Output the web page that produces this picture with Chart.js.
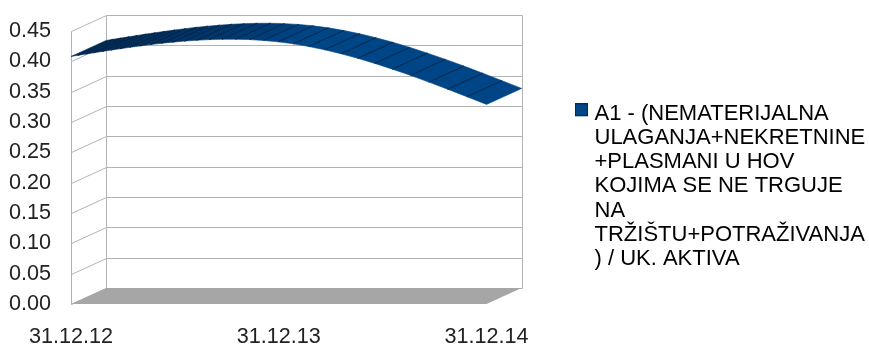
<!DOCTYPE html>
<html>
<head>
<meta charset="utf-8">
<script src="https://cdn.jsdelivr.net/npm/chart.js@4"></script>
<style>
  html, body { margin: 0; padding: 0; background: #fff; }
  #wrap { width: 869px; height: 344px; }
</style>
</head>
<body>
<div id="wrap"><canvas id="ratioChart"></canvas></div>
<script>
const categories = ['31.12.12', '31.12.13', '31.12.14'];
const ratioValues = [0.408, 0.432, 0.329];
const yTicks = [0, 0.05, 0.1, 0.15, 0.2, 0.25, 0.3, 0.35, 0.4, 0.45];
const legendLines = [
  'A1 - (NEMATERIJALNA',
  'ULAGANJA+NEKRETNINE',
  '+PLASMANI U HOV',
  'KOJIMA SE NE TRGUJE',
  'NA',
  'TRŽIŠTU+POTRAŽIVANJA',
  ') / UK. AKTIVA'
];

// depth of the fake 3d box, in axis units
const depthX = 0.169;
const depthY = 0.0263;
const facetCount = 31;
const facetEase = 0.518;

const fontFamily = '"Liberation Sans", Arial, sans-serif';
const textColor = '#222222';
const lineColor = '#b3b3b3';

function mixColor(a, b, t) {
  const c = a.map((v, i) => Math.round(v + (b[i] - v) * t));
  return `rgb(${c[0]}, ${c[1]}, ${c[2]})`;
}

// natural cubic spline through the three yearly values
function splineAt(x) {
  const [y0, y1, y2] = ratioValues;
  const m = 1.5 * (y0 - 2 * y1 + y2);
  if (x <= 1) {
    return y0 * (1 - x) + y1 * x + m * (x * x * x - x) / 6;
  }
  const u = 2 - x;
  return y2 * (1 - u) + y1 * u + m * (u * u * u - u) / 6;
}

// legend swatch, padded so it lines up with the top of the first text line
function makeSwatch() {
  const c = document.createElement('canvas');
  c.width = 16;
  c.height = 21;
  const g = c.getContext('2d');
  g.fillStyle = '#004586';
  g.strokeStyle = '#002c58';
  g.lineWidth = 1;
  g.fillRect(3, 0, 13, 13);
  g.strokeRect(3.5, 0.5, 12, 12);
  return c;
}

// walls, gridlines and floor of the box
const boxPlugin = {
  id: 'box',
  beforeDatasetsDraw(chart) {
    const { ctx, scales: { x, y } } = chart;
    const last = categories.length - 1;
    const top = yTicks[yTicks.length - 1];
    const seg = (x0, y0, x1, y1) => {
      ctx.beginPath();
      ctx.moveTo(Math.round(x.getPixelForValue(x0)) + 0.5, Math.round(y.getPixelForValue(y0)) + 0.5);
      ctx.lineTo(Math.round(x.getPixelForValue(x1)) + 0.5, Math.round(y.getPixelForValue(y1)) + 0.5);
      ctx.stroke();
    };
    ctx.save();
    ctx.strokeStyle = lineColor;
    ctx.lineWidth = 1;
    yTicks.forEach(v => {
      seg(0, v, depthX, v + depthY);
      seg(depthX, v + depthY, last + depthX, v + depthY);
    });
    seg(0, 0, 0, top);
    seg(depthX, depthY, depthX, top + depthY);
    seg(last + depthX, depthY, last + depthX, top + depthY);

    ctx.fillStyle = '#a6a6a6';
    ctx.beginPath();
    ctx.moveTo(x.getPixelForValue(0), y.getPixelForValue(0));
    ctx.lineTo(x.getPixelForValue(depthX), y.getPixelForValue(depthY));
    ctx.lineTo(x.getPixelForValue(last + depthX), y.getPixelForValue(depthY));
    ctx.lineTo(x.getPixelForValue(last), y.getPixelForValue(0));
    ctx.closePath();
    ctx.fill();
    ctx.restore();
  },
  // ribbon swept back from the spline, one shaded facet at a time
  afterDatasetsDraw(chart) {
    const { ctx, scales: { x, y } } = chart;
    const last = categories.length - 1;
    const ox = x.getPixelForValue(depthX) - x.getPixelForValue(0);
    const oy = y.getPixelForValue(depthY) - y.getPixelForValue(0);
    const edge = [];
    for (let j = 0; j <= facetCount; j++) {
      const u = j / facetCount;
      const v = last * (facetEase * u + (1 - facetEase) * u * u);
      edge.push({ x: x.getPixelForValue(v), y: y.getPixelForValue(splineAt(v)) });
    }
    ctx.save();
    ctx.lineJoin = 'round';
    for (let j = 0; j < facetCount; j++) {
      const a = edge[j];
      const b = edge[j + 1];
      const slope = (a.y - b.y) / (b.x - a.x);
      const t = Math.min(1, Math.max(0, (0.2 - slope) / 0.35));
      const shade = mixColor([0, 44, 88], [0, 69, 134], t);
      ctx.fillStyle = shade;
      ctx.strokeStyle = shade;
      ctx.lineWidth = 0.6;
      ctx.beginPath();
      ctx.moveTo(a.x, a.y);
      ctx.lineTo(b.x, b.y);
      ctx.lineTo(b.x + ox, b.y + oy);
      ctx.lineTo(a.x + ox, a.y + oy);
      ctx.closePath();
      ctx.fill();
      ctx.stroke();
    }
    ctx.strokeStyle = 'rgba(0, 20, 45, 0.85)';
    ctx.lineWidth = 0.8;
    for (let j = 1; j < facetCount; j++) {
      const a = edge[j];
      ctx.beginPath();
      ctx.moveTo(a.x, a.y);
      ctx.lineTo(a.x + ox, a.y + oy);
      ctx.stroke();
    }
    ctx.restore();
  }
};

// the legend sits lower and further left than the default right-hand slot
const legendShift = {
  id: 'legendShift',
  afterLayout(chart) {
    const legend = chart.legend;
    const width = legend.right - legend.left;
    const height = legend.bottom - legend.top;
    legend.left = 566.5;
    legend.right = legend.left + width;
    legend.top = 23;
    legend.bottom = legend.top + height;
  }
};

const swatch = makeSwatch();

new Chart(document.getElementById('ratioChart'), {
  type: 'line',
  data: {
    labels: categories,
    datasets: [{
      label: legendLines.join(' '),
      data: ratioValues.map((v, i) => ({ x: i, y: v })),
      borderWidth: 0,
      pointRadius: 0,
      backgroundColor: '#004586',
      borderColor: 'transparent'
    }]
  },
  options: {
    responsive: true,
    maintainAspectRatio: false,
    animation: false,
    layout: { padding: { top: 15, right: 39, bottom: 0, left: 0 } },
    plugins: {
      tooltip: { enabled: false },
      legend: {
        position: 'right',
        maxWidth: 340,
        labels: {
          usePointStyle: true,
          boxWidth: 7,
          boxHeight: 12,
          padding: 10,
          color: textColor,
          font: { family: fontFamily, size: 22, lineHeight: 1.1 },
          generateLabels: () => [{
            text: legendLines,
            fillStyle: '#004586',
            strokeStyle: '#002c58',
            lineWidth: 1,
            pointStyle: swatch,
            datasetIndex: 0
          }]
        }
      }
    },
    scales: {
      x: {
        type: 'linear',
        min: 0,
        max: categories.length - 1 + depthX,
        afterBuildTicks(axis) {
          axis.ticks = categories.map((c, i) => ({ value: i }));
        },
        afterFit(axis) {
          axis.height = 40;
          axis.paddingLeft = 0;
          axis.paddingRight = 0;
        },
        grid: { display: false },
        border: { display: false },
        ticks: {
          autoSkip: false,
          maxRotation: 0,
          padding: 12,
          color: textColor,
          font: { family: fontFamily, size: 21.6 },
          callback: value => categories[value]
        }
      },
      y: {
        min: 0,
        max: yTicks[yTicks.length - 1] + depthY,
        afterBuildTicks(axis) {
          axis.ticks = yTicks.map(v => ({ value: v }));
        },
        afterFit(axis) {
          axis.width = 71;
          axis.paddingTop = 0;
          axis.paddingBottom = 0;
        },
        grid: { display: false },
        border: { display: false },
        ticks: {
          padding: 12,
          color: textColor,
          font: { family: fontFamily, size: 21.6 },
          callback: value => value.toFixed(2)
        }
      }
    }
  },
  plugins: [boxPlugin, legendShift]
});
</script>
</body>
</html>
